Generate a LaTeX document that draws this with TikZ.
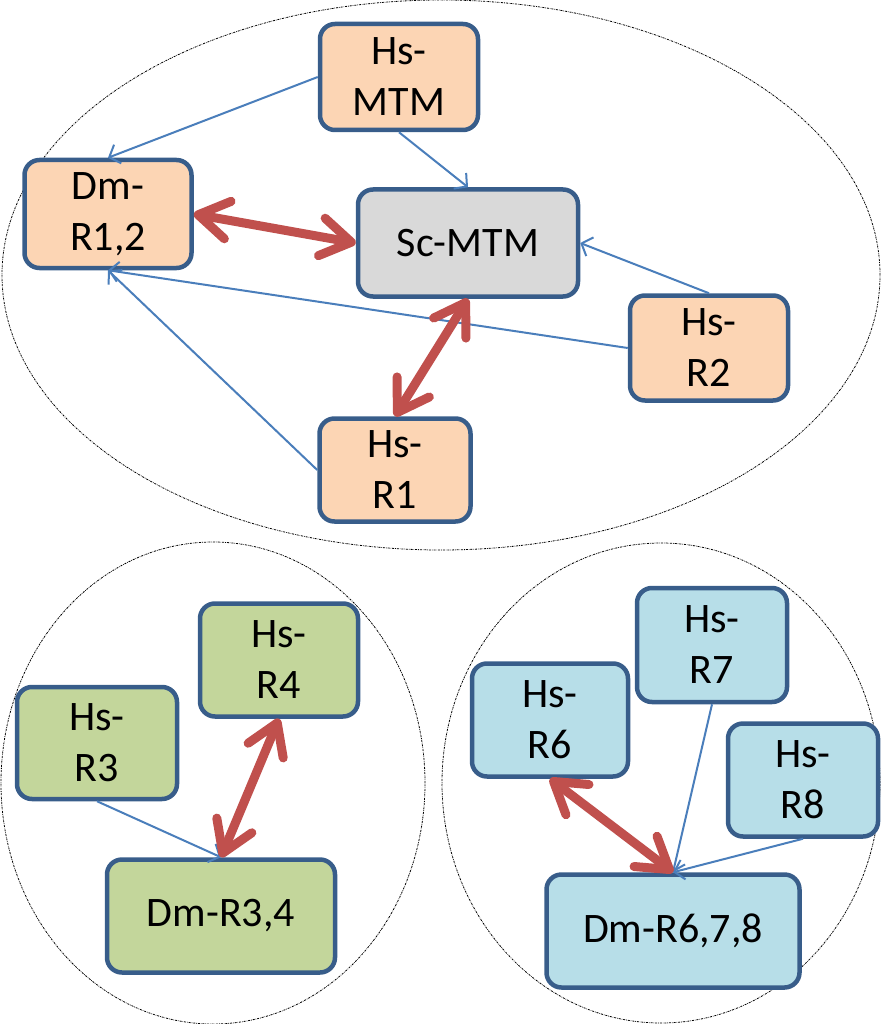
\documentclass[tikz,border=0pt]{standalone}
\usepackage{fontspec}
\setmainfont{Carlito}
\usetikzlibrary{arrows.meta}
\definecolor{boxborder}{HTML}{385D8A}
\definecolor{orangefill}{HTML}{FCD5B4}
\definecolor{greyfill}{HTML}{D9D9D9}
\definecolor{greenfill}{HTML}{C3D69B}
\definecolor{bluefill}{HTML}{B7DEE8}
\definecolor{linkblue}{HTML}{4A7EBB}
\definecolor{linkred}{HTML}{C0504D}
\begin{document}
\begin{tikzpicture}[x=1pt,y=-1pt,
  box/.style={draw=boxborder, line width=4.5pt, rounded corners=15pt, align=center,
    font=\fontsize{42}{51}\selectfont, inner sep=0pt},
  orangebox/.style={box, fill=orangefill},
  greybox/.style={box, fill=greyfill},
  greenbox/.style={box, fill=greenfill},
  bluebox/.style={box, fill=bluefill},
  group/.style={draw=black, line width=0.8pt, dash pattern=on 2pt off 1pt on 0.6pt off 1pt},
  thin link/.style={draw=linkblue, line width=2pt, -{Straight Barb[length=9pt,width=20pt]}},
  strong link/.style={draw=linkred, line width=9pt, line cap=round,
    {Straight Barb[length=30pt,width=38pt,round]}-{Straight Barb[length=30pt,width=38pt,round]},
    preaction={draw=black, draw opacity=0.18, transform canvas={shift={(2pt,-3pt)}}}}
]
\useasboundingbox (0,0) rectangle (885,1024);
% group outlines
\draw[group] (441,275) ellipse [x radius=439pt, y radius=275pt];
\draw[group] (213,783) ellipse [x radius=212pt, y radius=241pt];
\draw[group] (661,783) ellipse [x radius=219pt, y radius=240pt];
% nodes
\node[orangebox, minimum width=158pt, minimum height=106pt] (hsmtm) at (399,77) {Hs-\\MTM};
\node[orangebox, minimum width=167pt, minimum height=108pt] (dm12) at (108,214) {Dm-\\R1,2};
\node[greybox, minimum width=220pt, minimum height=107pt] (scmtm) at (468,243) {Sc-MTM};
\node[orangebox, minimum width=158pt, minimum height=105pt] (hsr2) at (709,348) {Hs-\\R2};
\node[orangebox, minimum width=151pt, minimum height=103pt] (hsr1) at (395,470) {Hs-\\R1};
\node[greenbox, minimum width=158pt, minimum height=113pt] (hsr4) at (279,660) {Hs-\\R4};
\node[greenbox, minimum width=160pt, minimum height=112pt] (hsr3) at (97,743) {Hs-\\R3};
\node[greenbox, minimum width=228pt, minimum height=113pt] (dm34) at (221,916) {Dm-R3,4};
\node[bluebox, minimum width=150pt, minimum height=114pt] (hsr7) at (712,645) {Hs-\\R7};
\node[bluebox, minimum width=156pt, minimum height=113pt] (hsr6) at (550,720) {Hs-\\R6};
\node[bluebox, minimum width=150pt, minimum height=113pt] (hsr8) at (803,780) {Hs-\\R8};
\node[bluebox, minimum width=253pt, minimum height=113pt] (dm678) at (673,931) {Dm-R6,7,8};
% thin blue links
\draw[thin link] (hsmtm.west) -- (dm12.north);
\draw[thin link] (hsmtm.south) -- (scmtm.north);
\draw[thin link] (hsr2.north) -- (scmtm.east);
\draw[thin link] (hsr2.west) -- (dm12.south);
\draw[thin link] (hsr1.west) -- (dm12.south);
\draw[thin link] (hsr3.south) -- (dm34.north);
\draw[thin link] (hsr7.south) -- (dm678.north);
\draw[thin link] (hsr8.south) -- (dm678.north);
% thick red links
\draw[strong link] (dm12.east) -- (scmtm.west);
\draw[strong link] (scmtm.south) -- (hsr1.north);
\draw[strong link] (hsr4.south) -- (dm34.north);
\draw[strong link] (hsr6.south) -- (dm678.north);
\end{tikzpicture}
\end{document}
